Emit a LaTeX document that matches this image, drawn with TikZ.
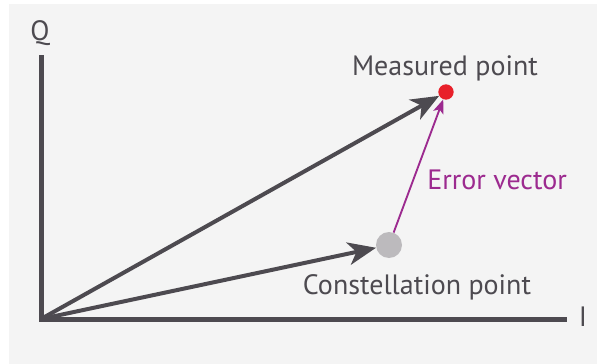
\documentclass[tikz,border=0pt]{standalone}
\usepackage{fontspec}
\setmainfont{PT Sans}
\usepackage{xcolor}
\usepackage{tikz}
\usetikzlibrary{positioning, arrows.meta, calc}

\definecolor{axisgray}{HTML}{4D4A50}
\definecolor{dotred}{HTML}{E8202A}
\definecolor{dotgray}{HTML}{BCBABD}
\definecolor{errpurple}{HTML}{9C2A8F}
\definecolor{bggray}{HTML}{F4F4F4}

\begin{document}
\begin{tikzpicture}[
    x=0.75pt, y=-0.75pt,
    axis/.style={draw=axisgray, line width=3.75pt},
    vec/.style={draw=axisgray, line width=3pt, -{Stealth[length=21pt, width=17pt, inset=6pt]}},
    errvec/.style={draw=errpurple, line width=1.4pt, -{Stealth[length=10.5pt, width=8pt, inset=2.5pt]}},
    pointlabel/.style={text=axisgray, font=\fontsize{21}{24}\selectfont, inner sep=0pt},
    axislabel/.style={text=axisgray, font=\fontsize{21}{24}\selectfont, inner sep=0pt},
    dot/.style={circle, inner sep=0pt, draw=none}
]
\useasboundingbox (0,0) rectangle (597,364);
\fill[bggray] (9,4) rectangle (597,364);

% axes
\coordinate (origin) at (41,319);
\coordinate (qtop) at (41,55);
\coordinate (iend) at (567,319);
\draw[axis] (qtop) -- (origin) -- (iend);
\node[axislabel] (qlab) at (40,33) {Q};
\node[axislabel] (ilab) at (583,317) {I};

% points
\node[dot, fill=dotred, minimum size=11.5pt] (meas) at (446,92) {};
\node[dot, fill=dotgray, minimum size=19.5pt] (const) at (389,245) {};
\node[pointlabel] (measlab) at (445,68) {Measured point};
\node[pointlabel] (constlab) at (417,287) {Constellation point};
\node[pointlabel, text=errpurple, anchor=west] (errlab) at (427,180) {Error vector};

% vectors
\draw[vec] (origin) -- (meas);
\draw[vec] (origin) -- (const);
\draw[errvec] (const) -- (meas);
\end{tikzpicture}
\end{document}
